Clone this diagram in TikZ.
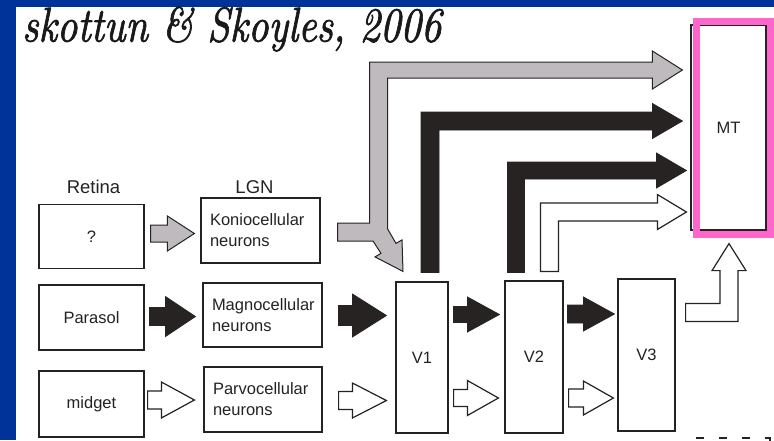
\documentclass[tikz,border=0pt]{standalone}
\usepackage{fontspec}
\newfontfamily\sans{Liberation Sans}
\newfontfamily\titlefont{lmroman10-italic.otf}[FakeBold=1.6]
\usetikzlibrary{calc}

\definecolor{slideblue}{RGB}{0,51,153}
\definecolor{hotpink}{RGB}{255,102,204}
\definecolor{arrgray}{RGB}{190,186,190}
\definecolor{arrdark}{RGB}{40,35,35}
\definecolor{inkc}{RGB}{35,35,35}

% horizontal block arrow: style, tail point (shaft centre), tip point (x only), half shaft, half head, head length
\newcommand\hArrow[6]{%
  \path[#1] let \p1=#2, \p2=#3 in
    (\x1,{\y1+#4pt}) -- ({\x2-#6pt},{\y1+#4pt}) -- ({\x2-#6pt},{\y1+#5pt}) -- (\x2,\y1)
    -- ({\x2-#6pt},{\y1-#5pt}) -- ({\x2-#6pt},{\y1-#4pt}) -- (\x1,{\y1-#4pt}) -- cycle;}

% L-shaped block arrow: rises from a foot point, turns right, ends at the tip
\newcommand\lArrow[6]{%
  \path[#1] let \p1=#2, \p2=#3 in
    ({\x1-#4pt},\y1) -- ({\x1-#4pt},{\y2+#4pt}) -- ({\x2-#6pt},{\y2+#4pt}) -- ({\x2-#6pt},{\y2+#5pt})
    -- (\x2,\y2) -- ({\x2-#6pt},{\y2-#5pt}) -- ({\x2-#6pt},{\y2-#4pt}) -- ({\x1+#4pt},{\y2-#4pt})
    -- ({\x1+#4pt},\y1) -- cycle;}

\tikzset{
  box/.style={draw=inkc, line width=1.2pt, fill=white, inner sep=0pt, text=inkc,
    font=\sans\fontsize{16.5}{21}\selectfont},
  cellbox/.style={box, inner xsep=9pt, align=left},
  head/.style={text=inkc, inner sep=0pt, anchor=base, font=\sans\fontsize{18.5}{20}\selectfont},
  gar/.style={fill=arrgray, draw=inkc, line width=1pt},
  bar/.style={fill=arrdark, draw=arrdark, line width=0.8pt},
  war/.style={fill=white, draw=inkc, line width=1.2pt},
}

\begin{document}
\begin{tikzpicture}[x=1pt, y=-1pt]
\useasboundingbox (0,0) rectangle (774,440);
\fill[slideblue] (0,0) rectangle (774,440);
\fill[white] (16,7) rectangle (774,440);

% title
\node[anchor=base west, inner sep=0pt, text=black!90] (title) at (22,41.5)
  {\scalebox{1}[1.22]{\titlefont\fontsize{40}{44}\selectfont skottun \& Skoyles, 2006}};

% column headings
\node[head] (hret) at (93.5,193) {Retina};
\node[head] (hlgn) at (254.5,193) {LGN};

% retina
\node[box, minimum width=105pt, minimum height=64pt] (ret1) at (91.5,236.5) {?};
\node[box, minimum width=105pt, minimum height=65pt] (ret2) at (91.5,317.5) {Parasol};
\node[box, minimum width=105pt, minimum height=66pt] (ret3) at (91.5,404) {midget};

% LGN
\node[cellbox, text width=101pt, minimum width=119pt, minimum height=65pt] (lgn1) at (260.5,230.5) {Koniocellular\\neurons};
\node[cellbox, text width=101pt, minimum width=119pt, minimum height=64pt] (lgn2) at (262.5,315) {Magnocellular\\neurons};
\node[cellbox, text width=100pt, minimum width=118pt, minimum height=65pt] (lgn3) at (263,399.5) {Parvocellular\\neurons};

% cortical areas
\node[box, minimum width=52pt, minimum height=151pt] (v1) at (422,357.5) {V1};
\node[box, minimum width=58pt, minimum height=152pt] (v2) at (534,357) {V2};
\node[box, minimum width=57pt, minimum height=152pt] (v3) at (646.5,355) {V3};
\node[box, minimum width=75pt, minimum height=205pt] (mt) at (728.5,127.5) {MT};
\draw[hotpink, line width=7.5pt] ([shift={(6,-3)}]mt.north west) rectangle ([shift={(4.5,4)}]mt.south east);

% retina -> LGN
\hArrow{gar}{([shift={(6,-3)}]ret1.east)}{([xshift=-6pt]lgn1.west)}{8.5}{17.5}{27}
\hArrow{bar}{([shift={(5,-1)}]ret2.east)}{([xshift=-7pt]lgn2.west)}{9}{20}{30}
\hArrow{war}{([shift={(3,-4)}]ret3.east)}{([xshift=-9pt]lgn3.west)}{9}{18}{33}

% LGN -> V1
\hArrow{bar}{([shift={(16,0.5)}]lgn2.east)}{([xshift=-9pt]v1.west)}{10}{21.5}{34}
\hArrow{war}{([shift={(16,1)}]lgn3.east)}{([xshift=-9pt]v1.west)}{9}{17.5}{34}

% V1 -> V2 -> V3
\hArrow{bar}{([shift={(5,-43)}]v1.east)}{([xshift=-5pt]v2.west)}{8}{17.5}{32}
\hArrow{war}{([shift={(5,40.5)}]v1.east)}{([xshift=-6pt]v2.west)}{8.5}{17.5}{31}
\hArrow{bar}{([shift={(4,-43)}]v2.east)}{([xshift=-3pt]v3.west)}{9}{17}{31}
\hArrow{war}{([shift={(5,41)}]v2.east)}{([xshift=-4pt]v3.west)}{9}{17}{30}

% koniocellular pathway: to MT over the top and down into V1
\path[gar] let \p1=([shift={(17,1.5)}]lgn1.east), \p2=([shift={(-8,-57.5)}]mt.west),
               \p3=([shift={(-19,-10)}]v1.north) in
  (\x1,{\y1+9pt}) -- ({\x1+32pt},{\y1+9pt}) -- ({\x1+32pt},{\y2+8pt}) -- ({\x2-30pt},{\y2+8pt})
  -- ({\x2-30pt},{\y2+19pt}) -- (\x2,\y2) -- ({\x2-30pt},{\y2-19pt}) -- ({\x2-30pt},{\y2-8pt})
  -- ({\x1+50pt},{\y2-8pt}) -- ({\x1+50pt},{\y3+42.5pt}) -- ({\x3-7pt},{\y3+28pt})
  -- ({\x3-1pt},{\y3+31.5pt}) -- (\x3,\y3) -- ({\x3-28pt},{\y3+14.5pt}) -- ({\x3-22pt},{\y3+18pt})
  -- ({\x3-30pt},{\y1-9pt}) -- (\x1,{\y1-9pt}) -- cycle;

% V1 / V2 -> MT
\lArrow{bar}{([shift={(8,-9)}]v1.north)}{([shift={(-8,-6.5)}]mt.west)}{9}{17.5}{30}
\lArrow{bar}{([shift={(-18,-8)}]v2.north)}{([shift={(-4,43)}]mt.west)}{8.5}{17.5}{30}
\lArrow{war}{([shift={(15.5,-9)}]v2.north)}{([shift={(-4,84.5)}]mt.west)}{9}{17.5}{29}

% V3 -> MT
\path[war] let \p1=([shift={(10,-42.5)}]v3.east), \p2=([shift={(0.5,13)}]mt.south) in
  (\x1,{\y1+9pt}) -- ({\x2-9pt},{\y1+9pt}) -- ({\x2-9pt},{\y2-27pt}) -- ({\x2-17pt},{\y2-27pt})
  -- (\x2,\y2) -- ({\x2+17pt},{\y2-27pt}) -- ({\x2+9pt},{\y2-27pt}) -- ({\x2+9pt},{\y1-9pt})
  -- (\x1,{\y1-9pt}) -- cycle;

% top of a dashed frame below
\draw[inkc, line width=1.4pt, dash pattern=on 8pt off 15pt] (696,438) -- (770,438) -- (770,446);
\end{tikzpicture}
\end{document}
